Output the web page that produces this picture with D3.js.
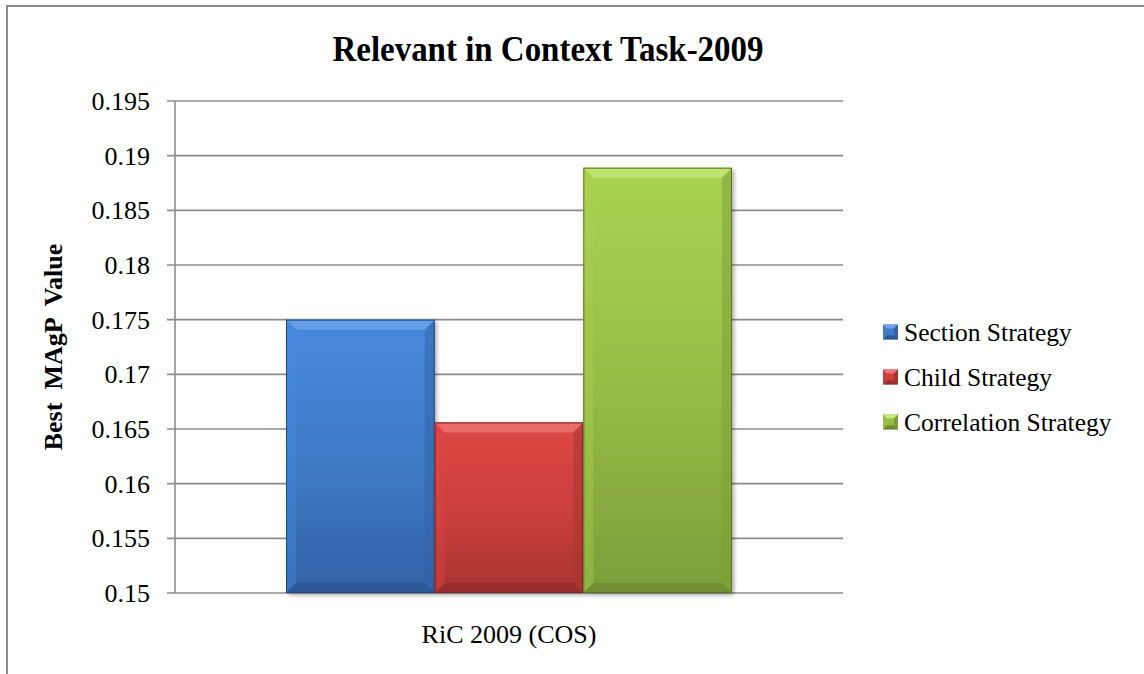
<!DOCTYPE html>
<html><head><meta charset="utf-8">
<script src="https://cdn.jsdelivr.net/npm/d3@7"></script>
<style>body{margin:0;background:#fff}svg{display:block}</style>
</head><body>
<script>
const categories = ["RiC 2009 (COS)"];
const seriesNames = ["Section Strategy", "Child Strategy", "Correlation Strategy"];
const seriesValues = [0.175, 0.1656, 0.1889];
const yTicks = [0.15, 0.155, 0.16, 0.165, 0.17, 0.175, 0.18, 0.185, 0.19, 0.195];
const yTickLabels = ["0.15","0.155","0.16","0.165","0.17","0.175","0.18","0.185","0.19","0.195"];
const title = "Relevant in Context Task-2009";
const yTitle = "Best  MAgP  Value";

const colors = [
  {top:"#4789dc", mid:"#3f7bc8", bot:"#3361a6", edge:"#24497f", hi:"#6ea5ea"},
  {top:"#dc4745", mid:"#cc3f3d", bot:"#a83432", edge:"#7e2422", hi:"#ef7775"},
  {top:"#aad250", mid:"#98bd46", bot:"#7d9d3a", edge:"#5c7628", hi:"#c8e87a"}
];

const W = 1144, H = 674;
const svg = d3.select("body").append("svg").attr("width", W).attr("height", H);
const font = "'Liberation Serif','Times New Roman',serif";

// outer border
svg.append("rect").attr("x",7).attr("y",6).attr("width",W).attr("height",H)
  .attr("fill","none").attr("stroke","#8a8a8a").attr("stroke-width",2);

const plot = {l:175, r:843, t:101, b:593};
const y = d3.scaleLinear().domain([0.15,0.195]).range([plot.b, plot.t]);
const x0 = d3.scaleBand().domain(categories).range([plot.l, plot.r]).paddingOuter(0.249).paddingInner(0);
const x1 = d3.scaleBand().domain(seriesNames).range([0, x0.bandwidth()]).padding(0);

const defs = svg.append("defs");
colors.forEach((c,i)=>{
  const g = defs.append("linearGradient").attr("id","g"+i).attr("x1",0).attr("y1",0).attr("x2",0).attr("y2",1);
  g.append("stop").attr("offset","0%").attr("stop-color",c.top);
  g.append("stop").attr("offset","50%").attr("stop-color",c.mid);
  g.append("stop").attr("offset","100%").attr("stop-color",c.bot);
});
const sh = defs.append("filter").attr("id","shadow").attr("x","-10%").attr("y","-10%").attr("width","130%").attr("height","130%");
sh.append("feDropShadow").attr("dx",2).attr("dy",2).attr("stdDeviation",2).attr("flood-color","#000").attr("flood-opacity",0.35);

// gridlines
const grid = svg.append("g");
grid.selectAll("line").data(yTicks).join("line")
  .attr("x1", plot.l-8).attr("x2", plot.r)
  .attr("y1", d=>y(d)).attr("y2", d=>y(d))
  .attr("stroke","#8c8c8c").attr("stroke-width",1.6);
// axis line
svg.append("line").attr("x1",plot.l).attr("x2",plot.l).attr("y1",plot.t).attr("y2",plot.b)
  .attr("stroke","#8c8c8c").attr("stroke-width",1.6);

// y axis labels
svg.append("g").selectAll("text").data(yTicks).join("text")
  .attr("x",150).attr("y",d=>y(d)).attr("dy","0.35em")
  .attr("text-anchor","end").attr("font-family",font).attr("font-size",26)
  .text((d,i)=>yTickLabels[i]);

// bars
const bars = svg.append("g");
categories.forEach(cat=>{
  seriesNames.forEach((s,i)=>{
    const bx = x0(cat)+x1(s), bw = x1.bandwidth();
    const by = y(seriesValues[i]), bh = y(0.15)-by;
    const c = colors[i];
    const g = bars.append("g");
    g.append("rect").attr("x",bx).attr("y",by).attr("width",bw).attr("height",bh)
      .attr("fill","url(#g"+i+")").attr("filter","url(#shadow)");
    const b = 10;
    g.append("path").attr("d",`M${bx},${by}L${bx+bw},${by}L${bx+bw-b},${by+b}L${bx+b},${by+b}Z`)
      .attr("fill",c.hi).attr("opacity",0.75);
    g.append("path").attr("d",`M${bx},${by}L${bx+b},${by+b}L${bx+b},${by+bh-b}L${bx},${by+bh}Z`)
      .attr("fill",c.top).attr("opacity",0.4);
    g.append("path").attr("d",`M${bx+bw},${by}L${bx+bw-b},${by+b}L${bx+bw-b},${by+bh-b}L${bx+bw},${by+bh}Z`)
      .attr("fill",c.bot).attr("opacity",0.5);
    g.append("path").attr("d",`M${bx},${by+bh}L${bx+b},${by+bh-b}L${bx+bw-b},${by+bh-b}L${bx+bw},${by+bh}Z`)
      .attr("fill",c.edge).attr("opacity",0.4);
    g.append("rect").attr("x",bx+0.5).attr("y",by+0.5).attr("width",bw-1).attr("height",bh-1)
      .attr("fill","none").attr("stroke",c.edge).attr("stroke-width",1);
  });
});

// x labels
svg.append("g").selectAll("text").data(categories).join("text")
  .attr("x",d=>x0(d)+x0.bandwidth()/2).attr("y",643)
  .attr("text-anchor","middle").attr("font-family",font).attr("font-size",26)
  .text(d=>d);

// title
svg.append("text").attr("x",548).attr("y",61).attr("text-anchor","middle")
  .attr("font-family",font).attr("font-size",36).attr("font-weight","bold")
  .attr("textLength",431).attr("lengthAdjust","spacingAndGlyphs").text(title);

// y title
svg.append("text").attr("transform",`translate(62,${(plot.t+plot.b)/2}) rotate(-90)`)
  .attr("text-anchor","middle").attr("font-family",font).attr("font-size",26)
  .attr("font-weight","bold").style("white-space","pre").text(yTitle);

// legend
const leg = svg.append("g");
seriesNames.forEach((s,i)=>{
  const cy = 332 + i*45;
  const c = colors[i];
  const sx = 883, sz = 15, sy = cy-7.5;
  leg.append("rect").attr("x",sx).attr("y",sy).attr("width",sz).attr("height",sz).attr("fill",c.mid);
  leg.append("path").attr("d",`M${sx},${sy}L${sx+sz},${sy}L${sx+sz-4},${sy+4}L${sx+4},${sy+4}Z`).attr("fill",c.hi);
  leg.append("path").attr("d",`M${sx},${sy+sz}L${sx+4},${sy+sz-4}L${sx+sz-4},${sy+sz-4}L${sx+sz},${sy+sz}Z`).attr("fill",c.edge).attr("opacity",0.7);
  leg.append("path").attr("d",`M${sx+sz},${sy}L${sx+sz-4},${sy+4}L${sx+sz-4},${sy+sz-4}L${sx+sz},${sy+sz}Z`).attr("fill",c.bot);
  leg.append("text").attr("x",904).attr("y",cy).attr("dy","0.35em")
    .attr("font-family",font).attr("font-size",25.5).text(s);
});
</script>
</body></html>
